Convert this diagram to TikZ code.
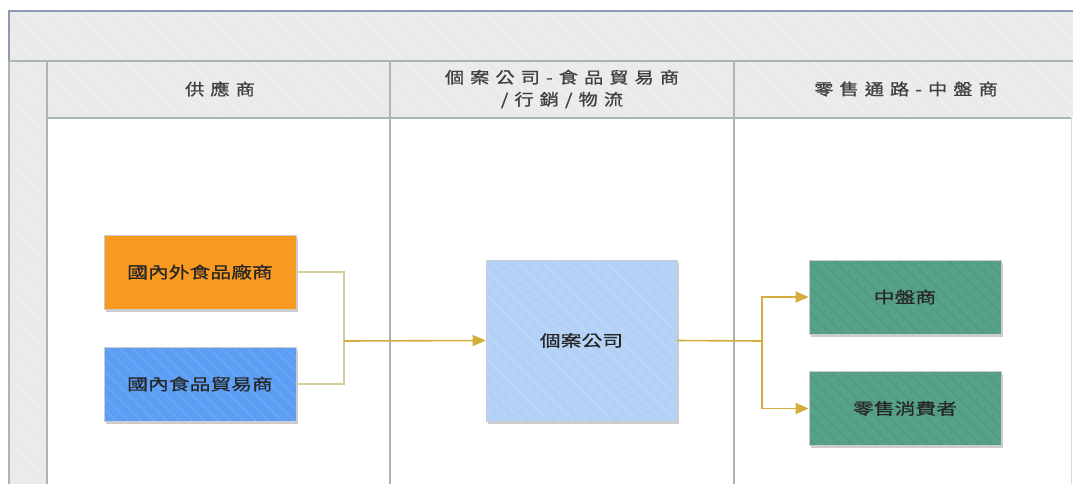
\documentclass[tikz,border=0pt]{standalone}
\usepackage{fontspec}
\newfontfamily\cjkbox[FakeStretch=1.3,FakeBold=0.6]{Noto Sans CJK TC}
\newfontfamily\cjkhead[FakeStretch=1.2,LetterSpace=38,FakeBold=1]{Noto Sans CJK TC}
\usetikzlibrary{patterns.meta,shadows,arrows.meta}
\definecolor{hdr}{HTML}{EAEAEA}
\definecolor{hdrH}{HTML}{EFEFEF}
\definecolor{lanebord}{HTML}{A9B6B2}
\definecolor{topbord}{HTML}{8D9AB6}
\definecolor{orangeF}{HTML}{F89A21}
\definecolor{blueF}{HTML}{5C9EF4}
\definecolor{blueH}{HTML}{6AA8F6}
\definecolor{lblueF}{HTML}{B3D1F7}
\definecolor{lblueH}{HTML}{BCD7F8}
\definecolor{greenF}{HTML}{58A189}
\definecolor{greenH}{HTML}{519A81}
\definecolor{tanL}{HTML}{D6CB9F}
\definecolor{goldL}{HTML}{D4AE3C}
\tikzset{
  hfill/.style 2 args={preaction={fill=#1},preaction={pattern={Lines[angle=-45,distance=9pt,line width=1.4pt]},pattern color=#2}},
  procbox/.style={rectangle,draw=black!20,line width=0.6pt,minimum width=192pt,minimum height=74pt,inner sep=0pt,
    font=\cjkbox\fontsize{16}{19}\selectfont,text=black!85,
    drop shadow={shadow xshift=1.5pt,shadow yshift=-2.5pt,opacity=0.2,fill=black}},
  headtxt/.style={font=\cjkhead\fontsize{16}{22}\selectfont,align=center,text=black!75,inner sep=0pt},
  lane/.style={draw=lanebord,line width=1.8pt},
  bracket/.style={draw=tanL,line width=1.6pt},
  flow/.style={draw=goldL,line width=1.6pt},
  tip/.style={-{Triangle[length=13pt,width=11pt]}}
}
\begin{document}
\begin{tikzpicture}[x=1pt,y=-1pt]
\useasboundingbox (0,0) rectangle (1073,483);
\fill[white] (0,0) rectangle (1073,483);
% bands
\path[hfill={hdr}{hdrH}] (9,11) rectangle (1075,61);
\path[hfill={hdr}{hdrH}] (9,61) rectangle (47,485);
\path[hfill={hdr}{hdrH}] (47,61) rectangle (1073,118);
% lane lines
\draw[topbord,line width=1.6pt] (9,61) -- (9,11) -- (1075,11);
\draw[lane] (9,61) -- (1075,61);
\draw[lane] (47,118) -- (1071,118);
\draw[lane] (9,61) -- (9,485);
\draw[lane] (47,61) -- (47,485);
\draw[lane] (390,61) -- (390,485);
\draw[lane] (734,61) -- (734,485);
\draw[lanebord!50,line width=1pt] (1071,118) -- (1071,485);
% headers
\node[headtxt] (h1) at (220,89) {供應商};
\node[headtxt] (h2) at (562,89) {個案公司-食品貿易商\\/行銷/物流};
\node[headtxt] (h3) at (906,89) {零售通路-中盤商};
% boxes
\node[procbox,fill=orangeF] (o) at (200,272) {國內外食品廠商};
\node[procbox,hfill={blueF}{blueH}] (b) at (200,384) {國內食品貿易商};
\node[procbox,hfill={lblueF}{lblueH},minimum width=191pt,minimum height=161pt] (c) at (581.5,340.5) {個案公司};
\node[procbox,hfill={greenF}{greenH}] (g1) at (905,297) {中盤商};
\node[procbox,hfill={greenF}{greenH}] (g2) at (905,408.5) {零售消費者};
% connectors
\coordinate (j1) at (344,341);
\coordinate (j2) at (762,341);
\draw[bracket] (o.east) -| (j1);
\draw[bracket] (b.east) -| (j1);
\draw[flow,tip] (j1) -- (c.west);
\draw[flow] (c.east) -- (j2);
\draw[flow,tip] (j2) |- (g1.west);
\draw[flow,tip] (j2) |- (g2.west);
\end{tikzpicture}
\end{document}
